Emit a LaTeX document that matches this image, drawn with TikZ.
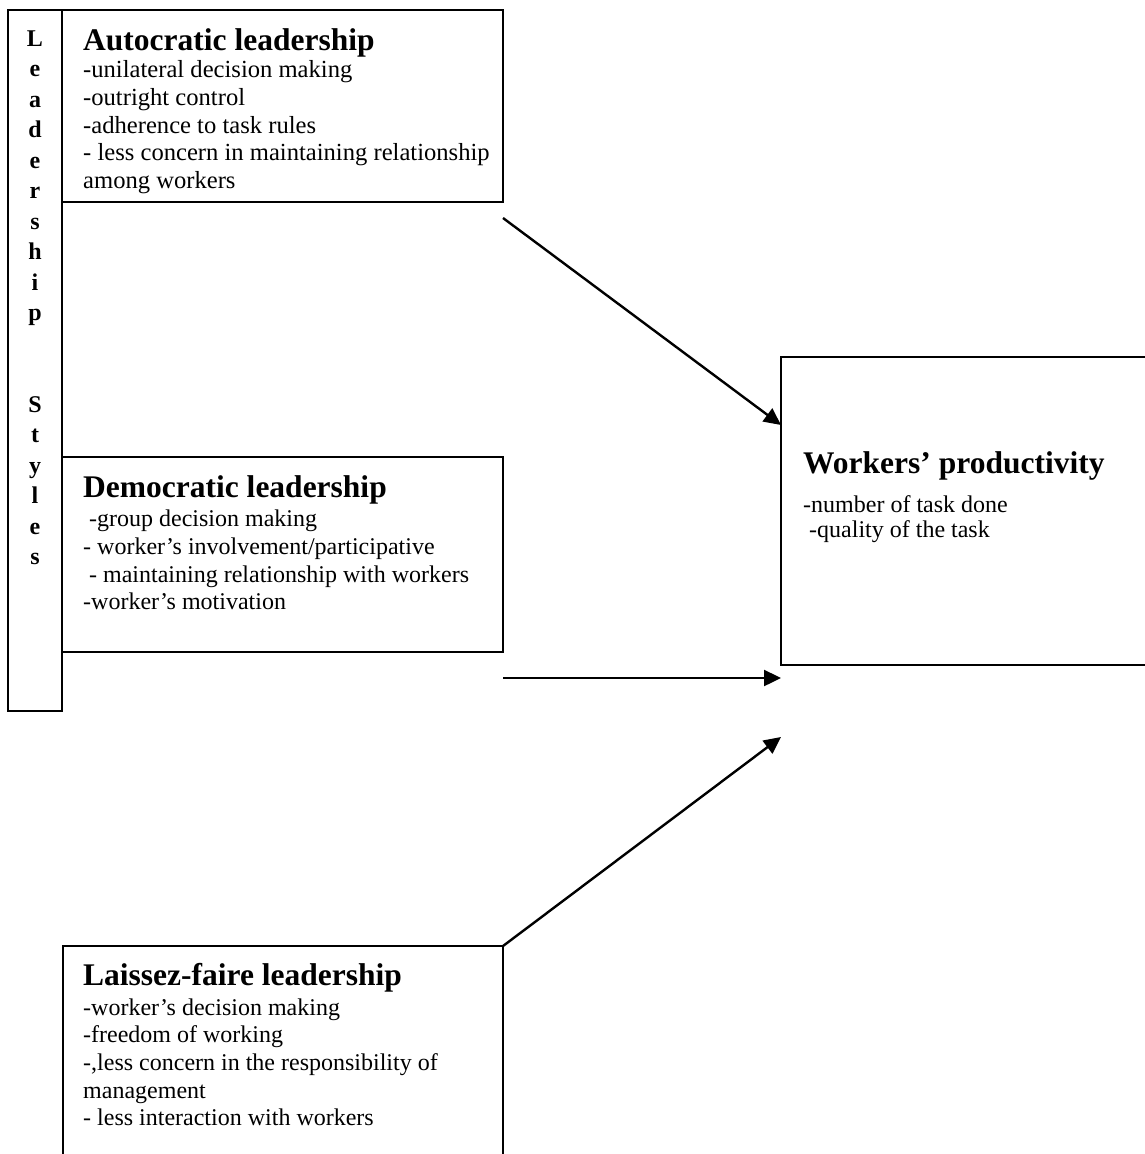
\documentclass[tikz,border=0pt]{standalone}
\usepackage{fontspec}
\setmainfont{Liberation Serif}
\usetikzlibrary{arrows.meta}

\newcommand{\boxhead}{\fontsize{31.5}{36}\selectfont\bfseries}

\begin{document}
\begin{tikzpicture}[x=1pt, y=-1pt,
    stylebox/.style={draw, line width=1.8pt, inner sep=0pt, outer sep=0pt, anchor=north west},
    boxtext/.style={anchor=north west, inner sep=0pt, align=left, font=\fontsize{24}{27.7}\selectfont},
    flow/.style={line width=2.4pt, -{Triangle[length=17pt, width=16pt]}}]
  \useasboundingbox (0,0) rectangle (1144,1154);

  % left bar and the three styles
  \node[stylebox, minimum width=54pt, minimum height=701pt] (bar) at (8,10) {};
  \node[stylebox, minimum width=441pt, minimum height=192pt] (auto) at (62,10) {};
  \node[stylebox, minimum width=441pt, minimum height=195pt] (demo) at (62,457) {};
  \node[stylebox, minimum width=440pt, minimum height=240pt] (laissez) at (63,946) {};
  \node[stylebox, minimum width=400pt, minimum height=308pt] (prod) at (781,357) {};

  \node[anchor=north, inner sep=0pt, align=center, font=\fontsize{24}{30.5}\selectfont\bfseries] (bartext) at (35,30.5)
    {L\\e\\a\\d\\e\\r\\s\\h\\i\\p\\[61pt]S\\t\\y\\l\\e\\s};

  \node[boxtext, font=\fontsize{24.6}{27.7}\selectfont] (autotext) at (83,28.5) {{\boxhead Autocratic leadership}\\[-0.5pt]
    -unilateral decision making\\
    -outright control\\
    -adherence to task rules\\
    - less concern in maintaining relationship\\
    among workers};
  \node[boxtext] (demotext) at (83,475.5) {{\boxhead Democratic leadership}\\[1.5pt]
    \ -group decision making\\
    - worker’s involvement/participative\\
    \ - maintaining relationship with workers\\
    -worker’s motivation};
  \node[boxtext] (laissteztext) at (83,963.5) {{\boxhead Laissez-faire leadership}\\[1.5pt]
    -worker’s decision making\\
    -freedom of working\\
    -,less concern in the responsibility of\\
    management\\
    - less interaction with workers};
  \node[boxtext, font=\fontsize{24}{25}\selectfont] (prodtext) at (803,451.5) {{\boxhead Workers’ productivity}\\[14pt]
    -number of task done\\
    \ -quality of the task};

  % free ends of the arrows
  \coordinate (autoOut) at ([yshift=-16pt]auto.south east);
  \coordinate (demoOut) at ([yshift=-26pt]demo.south east);
  \coordinate (prodIn1) at ([yshift=-68pt]prod.north west);
  \coordinate (prodIn2) at ([yshift=-13pt]prod.south west);
  \coordinate (prodIn3) at ([yshift=-72pt]prod.south west);

  \foreach \source/\dest in {autoOut/prodIn1, demoOut/prodIn2, laissez.north east/prodIn3}
    \draw[flow] (\source) -- (\dest);
\end{tikzpicture}
\end{document}
